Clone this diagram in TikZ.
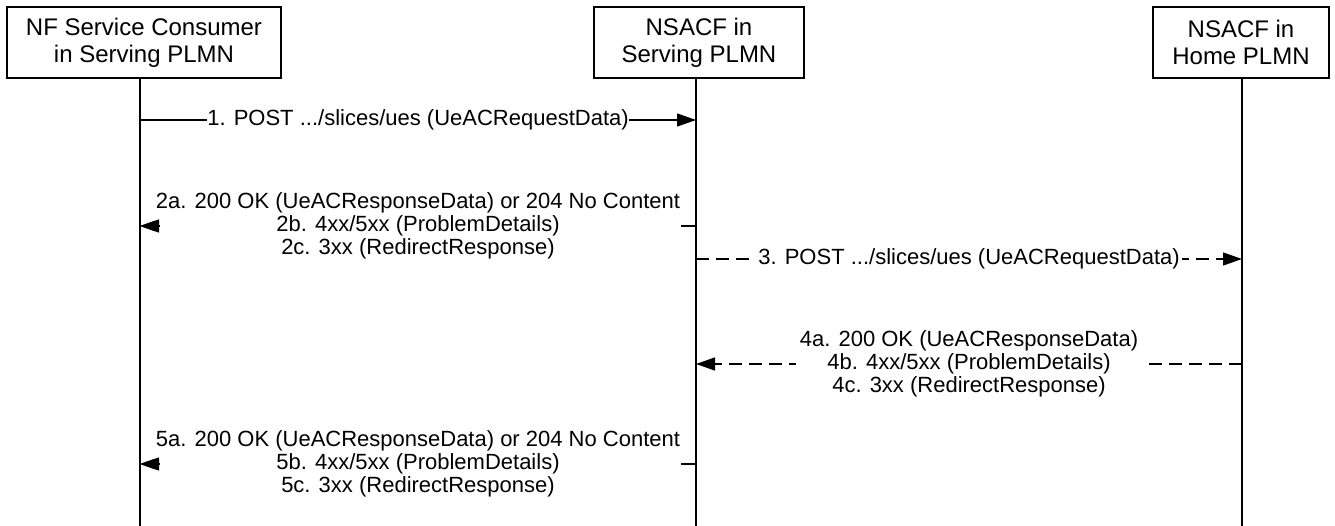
\documentclass[tikz,border=0pt]{standalone}
\usepackage{fontspec}
\setmainfont{Liberation Sans}
\usetikzlibrary{arrows.meta,calc}
\begin{document}
\begin{tikzpicture}[x=1pt,y=-1pt,
  box/.style={draw, line width=1.2pt, inner sep=0pt, align=center, minimum height=71pt, font=\fontsize{24}{27}\selectfont},
  life/.style={line width=1.2pt},
  msg/.style={line width=1.2pt, -{Triangle[length=19pt,width=13pt]}},
  dmsg/.style={msg, dash pattern=on 13pt off 7pt},
  lbl/.style={fill=white, inner xsep=0.5pt, inner ysep=0pt, align=center, font=\fontsize{22}{23}\selectfont}]
\useasboundingbox (0,0) rectangle (1335,526);

% participants
\node[box, minimum width=274pt] (nf) at (144,42.5) {NF Service Consumer\\in Serving PLMN};
\node[box, minimum width=210pt] (vs) at (699,42.5) {NSACF in\\Serving PLMN};
\node[box, minimum width=176pt] (hs) at (1241,42.5) {NSACF in\\Home PLMN};

% lifelines
\coordinate (nft) at (140,78);  \coordinate (nfb) at (140,526);
\coordinate (vst) at (696,78);  \coordinate (vsb) at (696,526);
\coordinate (hst) at (1242,78); \coordinate (hsb) at (1242,526);
\draw[life] (nft) -- (nfb);
\draw[life] (vst) -- (vsb);
\draw[life] (hst) -- (hsb);

% message anchors
\coordinate (a1) at (140,120); \coordinate (b1) at (696,120);
\coordinate (a2) at (696,226); \coordinate (b2) at (140,226);
\coordinate (a3) at (696,259); \coordinate (b3) at (1242,259);
\coordinate (a4) at (1242,364); \coordinate (b4) at (696,364);
\coordinate (a5) at (696,464); \coordinate (b5) at (140,464);

\draw[msg] (a1) -- node[lbl] (l1) {1. POST .../slices/ues (UeACRequestData)} (b1);
\draw[msg] (a2) -- node[lbl] (l2) {2a. 200 OK (UeACResponseData) or 204 No Content\\2b. 4xx/5xx (ProblemDetails)\\2c. 3xx (RedirectResponse)} (b2);
\draw[dmsg] (a3) -- node[lbl, inner xsep=2pt] (l3) {3. POST .../slices/ues (UeACRequestData)} (b3);
\draw[dmsg] (a4) -- node[lbl, inner xsep=4pt] (l4) {4a. 200 OK (UeACResponseData)\\4b. 4xx/5xx (ProblemDetails)\\4c. 3xx (RedirectResponse)} (b4);
\draw[msg] (a5) -- node[lbl] (l5) {5a. 200 OK (UeACResponseData) or 204 No Content\\5b. 4xx/5xx (ProblemDetails)\\5c. 3xx (RedirectResponse)} (b5);

% arrow tips of messages 2 and 5 kept above the label backgrounds
\draw[msg] ($(b2)+(19,0)$) -- (b2);
\draw[msg] ($(b5)+(19,0)$) -- (b5);
\end{tikzpicture}
\end{document}
